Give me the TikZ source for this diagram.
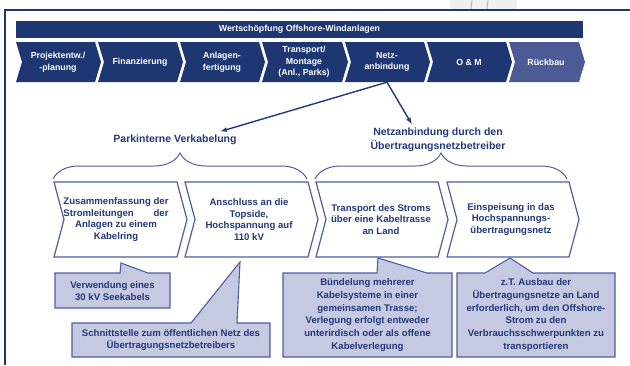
\documentclass[tikz,border=0pt]{standalone}
\usepackage{fontspec}
\setmainfont{Liberation Sans}
\usepackage{calc}
\usetikzlibrary{arrows.meta,decorations.pathreplacing}

\definecolor{navy}{RGB}{30,55,115}
\definecolor{navylight}{RGB}{76,90,150}
\definecolor{rimblue}{RGB}{78,94,160}
\definecolor{inkblue}{RGB}{36,56,122}
\definecolor{notefill}{RGB}{197,202,226}

% chevron outline: x, y, width, height, depth of point
\newcommand{\chev}[5]{(#1,#2) -- (#1+#3,#2) -- (#1+#3+#5,#2+#4/2) -- (#1+#3,#2+#4) -- (#1,#2+#4) -- (#1+#5,#2+#4/2) -- cycle}

\tikzset{
  toptext/.style={text=white, font=\fontsize{8.8}{11.5}\selectfont\bfseries, align=center, minimum height=40pt, inner sep=0pt},
  steptext/.style={text=inkblue, font=\fontsize{9.6}{11.8}\selectfont\bfseries, align=center, minimum height=75pt, inner sep=0pt},
  headtext/.style={text=inkblue, font=\fontsize{10.5}{14}\selectfont\bfseries, align=center},
  notetext/.style={text=inkblue, font=\fontsize{9.6}{12.8}\selectfont\bfseries, align=center},
  stepbox/.style={draw=rimblue, fill=white, line width=1.2pt},
  notebox/.style={draw=rimblue, fill=notefill, line width=1.1pt},
  bracket/.style={draw=rimblue, line width=1pt, decorate, decoration={brace, amplitude=26pt}},
  pointer/.style={draw=inkblue, line width=1.4pt, -{Latex[length=7pt,width=5pt]}}
}

\begin{document}
\begin{tikzpicture}[x=1pt,y=-1pt]
\useasboundingbox (0,0) rectangle (630,365);

\fill[gray!12] (450,0) rectangle (517,9);
\draw[gray!60, line width=0.8pt] (472,0) -- (471,9);
\draw[gray!60, line width=0.8pt] (488,0) -- (487,9);
\draw[navy, line width=1.5pt] (5,365) -- (5,10) -- (630,10);

% value chain
\fill[navy] (16,21) rectangle (583,38);
\node[toptext, minimum height=0pt] (kopf) at (299.5,29.5) {Wertschöpfung Offshore-Windanlagen};

\fill[navy] \chev{16}{42}{79}{40}{6};
\fill[navy] \chev{98}{42}{79}{40}{6};
\fill[navy] \chev{180}{42}{79}{40}{6};
\fill[navy] \chev{262}{42}{80}{40}{6};
\fill[navy] \chev{345}{42}{79}{40}{6};
\fill[navy] \chev{427}{42}{79}{40}{6};
\fill[navylight] \chev{509}{42}{70}{40}{6};

\node[toptext] (proj) at (58,62) {Projektentw./\\-planung};
\node[toptext] (fin) at (140,62) {Finanzierung};
\node[toptext] (anl) at (222,62) {Anlagen-\\fertigung};
\node[toptext] (trans) at (304,62) {Transport/\\Montage\\(Anl., Parks)};
\node[toptext] (netz) at (387,62) {Netz-\\anbindung};
\node[toptext] (om) at (469,62) {O \& M};
\node[toptext] (rueck) at (546,62) {Rückbau};

% headings and braces
\node[headtext] (park) at (175,140) {Parkinterne Verkabelung};
\node[headtext] (netzub) at (438,140) {Netzanbindung durch den\\Übertragungsnetzbetreiber};

\draw[pointer] (netz.south) -- ([xshift=45pt]park.north);
\draw[pointer] (netz.south) -- ([xshift=-26pt]netzub.north);

\draw[bracket] (53,179) -- (307,179);
\draw[bracket] (315,179) -- (567,179);

% steps
\draw[stepbox] \chev{54}{182}{123}{75}{10};
\draw[stepbox] \chev{185}{182}{123}{75}{10};
\draw[stepbox] \chev{316}{182}{122}{75}{10};
\draw[stepbox] \chev{447}{182}{122}{75}{10};

\node[steptext] (kabelring) at (116,219.5) {Zusammenfassung der\\\makebox[\widthof{Zusammenfassung der}][s]{Stromleitungen der}\\Anlagen zu einem\\Kabelring};
\node[steptext] (topside) at (249,219.5) {Anschluss an die\\Topside,\\Hochspannung auf\\110 kV};
\node[steptext] (trasse) at (381,219.5) {Transport des Stroms\\über eine Kabeltrasse\\an Land};
\node[steptext] (einspeis) at (511,219.5) {Einspeisung in das\\Hochspannungs-\\übertragungsnetz};

% notes
\draw[notebox] (55,273) -- (120,273) -- (121,263) -- (148,273) -- (170,273) -- (170,308) -- (55,308) -- cycle;
\node[notetext] (seekabel) at (112.5,291) {Verwendung eines\\30 kV Seekabels};

\draw[notebox] (72,323) -- (191,323) -- (240,262) -- (237,323) -- (270,323) -- (270,357) -- (72,357) -- cycle;
\node[notetext] (schnitt) at (171,340) {Schnittstelle zum öffentlichen Netz des\\Übertragungsnetzbetreibers};

\draw[notebox] (283,273) -- (377,273) -- (378,258) -- (427,273) -- (452,273) -- (452,357) -- (283,357) -- cycle;
\node[notetext] (buendel) at (367.5,315) {Bündelung mehrerer\\Kabelsysteme in einer\\gemeinsamen Trasse;\\Verlegung erfolgt entweder\\unterirdisch oder als offene\\Kabelverlegung};

\draw[notebox] (457,273) -- (485,273) -- (510,258) -- (533,273) -- (615,273) -- (615,357) -- (457,357) -- cycle;
\node[notetext] (ausbau) at (536,315) {z.T. Ausbau der\\Übertragungsnetze an Land\\erforderlich, um den Offshore-\\Strom zu den\\Verbrauchsschwerpunkten zu\\transportieren};
\end{tikzpicture}
\end{document}
